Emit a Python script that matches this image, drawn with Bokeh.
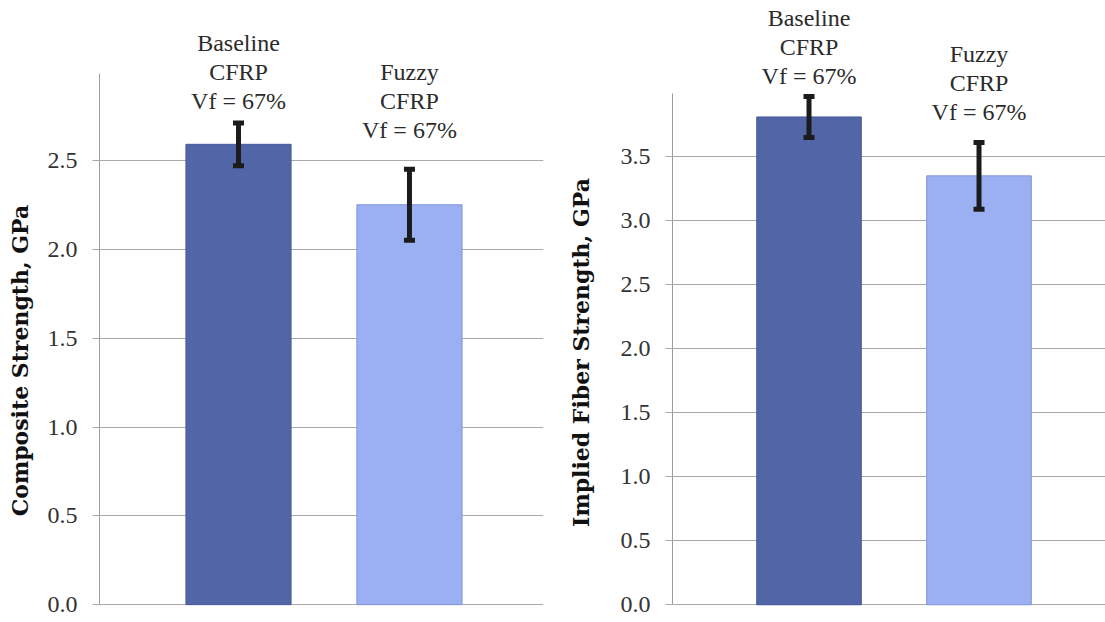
import math
from bokeh.plotting import figure
from bokeh.models import (Range1d, FixedTicker, NumeralTickFormatter, Whisker,
                          TeeHead, ColumnDataSource, LabelSet)
from bokeh.layouts import row
from bokeh.core.properties import value
from bokeh.embed import file_html
from bokeh.resources import INLINE

# ---- data -------------------------------------------------------------
category_lines = [["Baseline", "CFRP", "Vf = 67%"],
                  ["Fuzzy", "CFRP", "Vf = 67%"]]

composite_strength = [2.59, 2.25]      # GPa
composite_error = [0.12, 0.20]
composite_ticks = [0.0, 0.5, 1.0, 1.5, 2.0, 2.5]

fiber_strength = [3.81, 3.35]          # GPa
fiber_error = [0.16, 0.26]
fiber_ticks = [0.0, 0.5, 1.0, 1.5, 2.0, 2.5, 3.0, 3.5]

# ---- styling / layout -------------------------------------------------
bar_fill = ["#5266a7", "#9bb0f3"]
bar_line = ["#45599a", "#7f92da"]
grid_color = "#a9a9a9"
err_color = "#1b1b1b"
serif = "Liberation Serif"
title_font = "DejaVu Serif"
HEIGHT = 622
BOTTOM = 17
LINE_GAP = 29          # px between caption lines


def title_strip(text, width, x_center, y_center_from_top):
    """Narrow figure that only carries the rotated y-axis title."""
    t = figure(width=width, height=HEIGHT,
               x_range=Range1d(0, width), y_range=Range1d(BOTTOM, HEIGHT),
               output_backend="svg", toolbar_location=None,
               min_border_left=0, min_border_right=0,
               min_border_top=0, min_border_bottom=BOTTOM,
               background_fill_color="white", border_fill_color="white")
    t.outline_line_color = None
    t.axis.visible = False
    t.grid.visible = False
    t.text(x=[x_center], y=[HEIGHT - y_center_from_top], text=[text],
           angle=math.pi / 2, text_align="center", text_baseline="middle",
           text_font=value(title_font), text_font_style="bold",
           text_font_size="22px", text_color="#111111")
    return t


def panel(values, errors, ticks, axis_top, view_top, x_lo, x_hi, label_y,
          width, border_left, border_right):
    # the frame spans the full height so the captions above the bars are
    # not clipped; the axis line itself stops at axis_top
    y_lo = -0.004
    p = figure(width=width, height=HEIGHT,
               x_range=Range1d(x_lo, x_hi), y_range=Range1d(y_lo, view_top),
               output_backend="svg", toolbar_location=None,
               min_border_left=border_left, min_border_right=border_right,
               min_border_top=0, min_border_bottom=BOTTOM,
               background_fill_color="white", border_fill_color="white")
    p.outline_line_color = None
    p.xaxis.visible = False
    p.xgrid.visible = False

    px_per_unit = (HEIGHT - BOTTOM) / (view_top - y_lo)
    n_lines = len(category_lines[0])
    xs = list(range(len(category_lines)))
    data = dict(
        x=xs, top=values,
        upper=[v + e for v, e in zip(values, errors)],
        lower=[v - e for v, e in zip(values, errors)],
        fill=bar_fill, line=bar_line)
    for k in range(n_lines):
        data[f"text{k}"] = [lines[k] for lines in category_lines]
        data[f"y{k}"] = [ly + (n_lines - 1 - k) * LINE_GAP / px_per_unit
                         for ly in label_y]
    src = ColumnDataSource(data)

    p.vbar(x="x", top="top", bottom=0, width=0.615, source=src,
           fill_color="fill", line_color="line", line_width=1)

    whisk = Whisker(base="x", upper="upper", lower="lower", source=src,
                    line_color=err_color, line_width=5, level="overlay",
                    upper_head=TeeHead(size=11, line_width=5, line_color=err_color),
                    lower_head=TeeHead(size=11, line_width=5, line_color=err_color))
    p.add_layout(whisk)

    for k in range(n_lines):
        p.add_layout(LabelSet(x="x", y=f"y{k}", text=f"text{k}", source=src,
                              text_align="center", text_baseline="alphabetic",
                              text_font=value(serif), text_font_size="24px",
                              text_color="#2b2b2b"))

    ax = p.yaxis[0]
    ax.bounds = (0, axis_top)
    ax.ticker = FixedTicker(ticks=ticks)
    ax.formatter = NumeralTickFormatter(format="0.0")
    ax.axis_line_color = "#9c9c9c"
    ax.major_tick_line_color = grid_color
    ax.major_tick_out = 7
    ax.major_tick_in = 0
    ax.minor_tick_line_color = None
    ax.major_label_text_font = serif
    ax.major_label_text_font_size = "24px"
    ax.major_label_text_color = "#333333"
    ax.major_label_standoff = 15

    p.ygrid.grid_line_color = grid_color
    p.ygrid.grid_line_width = 1
    return p


left_title = title_strip("Composite Strength, GPa", 40, 19, 360)
left = panel(composite_strength, composite_error, composite_ticks, 2.99, 3.399,
             -0.813, 1.784, [2.791, 2.628], 520, 59, 17)
right_title = title_strip("Implied Fiber Strength, GPa", 40, 20, 352)
right = panel(fiber_strength, fiber_error, fiber_ticks, 3.99, 4.719,
              -0.803, 1.744, [4.065, 3.785], 505, 72, 0)

layout = row(left_title, left, right_title, right, spacing=0)
open("out.html", "w").write(file_html(layout, INLINE))
